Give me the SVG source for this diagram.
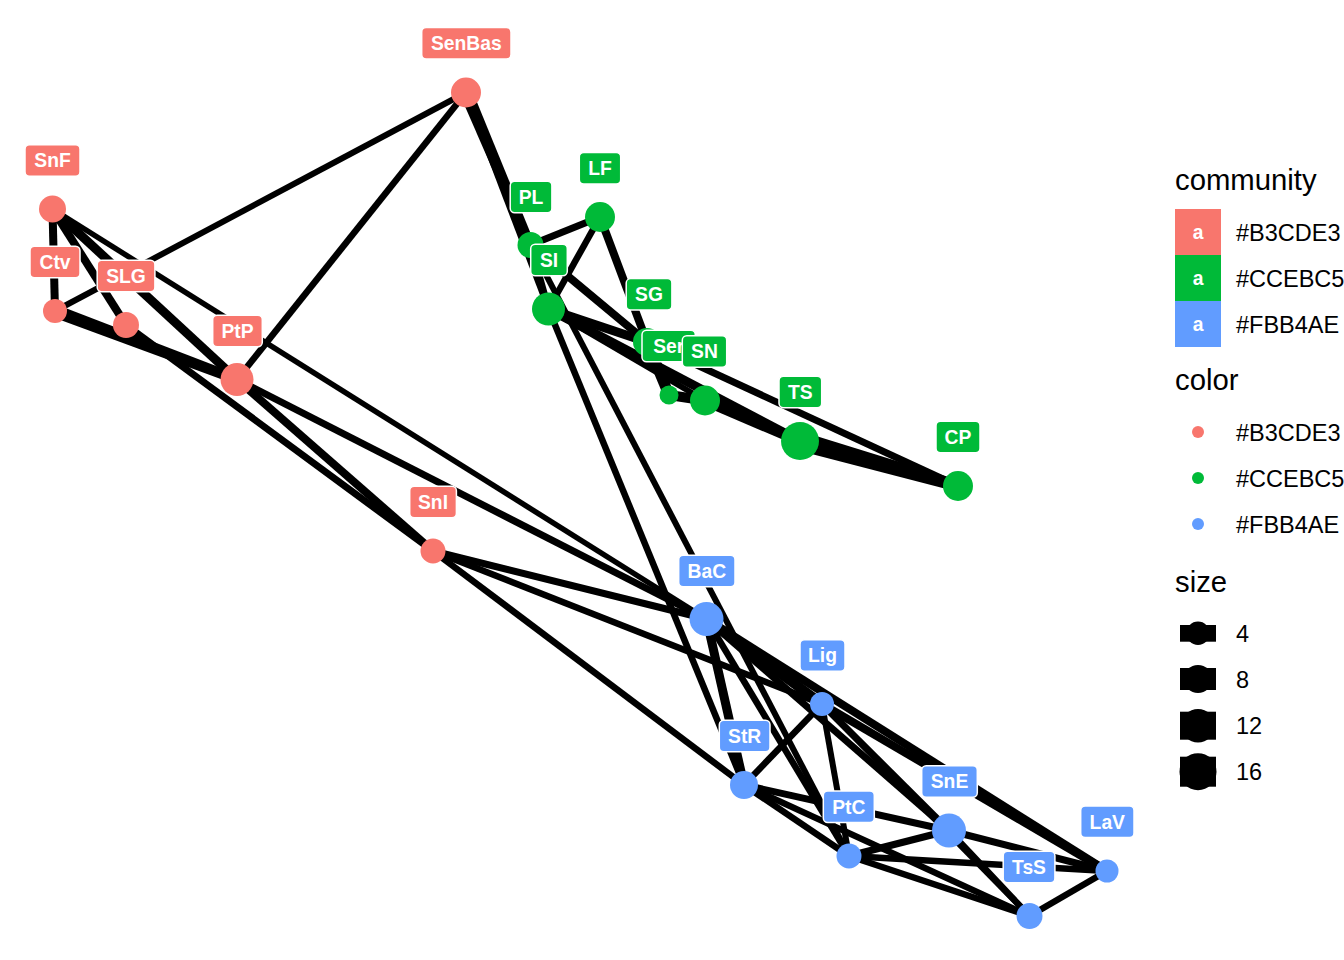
<svg xmlns="http://www.w3.org/2000/svg" width="1344" height="960" viewBox="0 0 1344 960">
<style>
.e{stroke:#000;stroke-linecap:butt;fill:none}
.r{fill:#F8766D}.g{fill:#00BA38}.b{fill:#619CFF}
.lb{stroke:#fff;stroke-width:1.5}
.lt{font-family:"Liberation Sans",Arial,sans-serif;font-weight:bold;font-size:19.3px;fill:#fff;text-anchor:middle}
.tt{font-family:"Liberation Sans",Arial,sans-serif;font-size:29.3px;fill:#000}
.tx{font-family:"Liberation Sans",Arial,sans-serif;font-size:23.5px;fill:#000}
</style>
<rect width="1344" height="960" fill="#fff"/>
<g id="connectors">
<line class="e" stroke-width="8" x1="52.5" y1="209" x2="55" y2="311"/>
<line class="e" stroke-width="8" x1="52.5" y1="209" x2="126" y2="325"/>
<line class="e" stroke-width="9" x1="52.5" y1="209" x2="237" y2="379.5"/>
<line class="e" stroke-width="5.5" x1="52.5" y1="209" x2="706.5" y2="619"/>
<polygon fill="#000" points="55,304 55,318 237,385 237,374"/>
<line class="e" stroke-width="6" x1="466" y1="92.5" x2="55" y2="311"/>
<line class="e" stroke-width="6.5" x1="466" y1="92.5" x2="237" y2="379.5"/>
<line class="e" stroke-width="7" x1="126" y1="325" x2="433" y2="551"/>
<line class="e" stroke-width="8" x1="237" y1="379.5" x2="433" y2="551"/>
<line class="e" stroke-width="7" x1="237" y1="379.5" x2="706.5" y2="619"/>
<line class="e" stroke-width="7" x1="433" y1="551" x2="706.5" y2="619"/>
<line class="e" stroke-width="6.5" x1="433" y1="551" x2="822" y2="704"/>
<line class="e" stroke-width="6.5" x1="433" y1="551" x2="744" y2="785"/>
<polygon fill="#000" points="460,95 472,90 535,244 526,246"/>
<line class="e" stroke-width="6" x1="466" y1="92.5" x2="548.5" y2="309"/>
<line class="e" stroke-width="7" x1="530.5" y1="245" x2="600" y2="217"/>
<line class="e" stroke-width="7" x1="530.5" y1="245" x2="548.5" y2="309"/>
<line class="e" stroke-width="6.5" x1="600" y1="217" x2="548.5" y2="309"/>
<line class="e" stroke-width="8" x1="600" y1="217" x2="647" y2="342"/>
<line class="e" stroke-width="8" x1="530.5" y1="245" x2="647" y2="342"/>
<line class="e" stroke-width="9" x1="548.5" y1="309" x2="647" y2="342"/>
<line class="e" stroke-width="9" x1="548.5" y1="309" x2="800" y2="441"/>
<line class="e" stroke-width="6" x1="548.5" y1="309" x2="705" y2="400.5"/>
<line class="e" stroke-width="11" x1="647" y1="342" x2="669" y2="395"/>
<line class="e" stroke-width="10" x1="669" y1="395" x2="705" y2="400.5"/>
<line class="e" stroke-width="11" x1="705" y1="400.5" x2="800" y2="441"/>
<polygon fill="#000" points="800,431 800,451 958,492 958,480"/>
<line class="e" stroke-width="7" x1="647" y1="342" x2="958" y2="486"/>
<line class="e" stroke-width="6.5" x1="548.5" y1="309" x2="744" y2="785"/>
<line class="e" stroke-width="6" x1="530.5" y1="245" x2="849" y2="856"/>
<line class="e" stroke-width="10" x1="706.5" y1="619" x2="822" y2="704"/>
<line class="e" stroke-width="7" x1="706.5" y1="619" x2="949" y2="830.5"/>
<line class="e" stroke-width="8" x1="706.5" y1="619" x2="1107" y2="871"/>
<line class="e" stroke-width="9" x1="706.5" y1="619" x2="744" y2="785"/>
<line class="e" stroke-width="6.5" x1="706.5" y1="619" x2="849" y2="856"/>
<line class="e" stroke-width="6.5" x1="822" y1="704" x2="744" y2="785"/>
<line class="e" stroke-width="6" x1="822" y1="704" x2="849" y2="856"/>
<line class="e" stroke-width="7" x1="822" y1="704" x2="949" y2="830.5"/>
<line class="e" stroke-width="6" x1="822" y1="704" x2="1029.5" y2="916"/>
<line class="e" stroke-width="8" x1="822" y1="704" x2="1107" y2="871"/>
<line class="e" stroke-width="6.5" x1="744" y1="785" x2="849" y2="856"/>
<line class="e" stroke-width="7" x1="744" y1="785" x2="949" y2="830.5"/>
<line class="e" stroke-width="6.5" x1="744" y1="785" x2="1029.5" y2="916"/>
<line class="e" stroke-width="7" x1="849" y1="856" x2="949" y2="830.5"/>
<line class="e" stroke-width="6.5" x1="849" y1="856" x2="1107" y2="871"/>
<line class="e" stroke-width="6.5" x1="849" y1="856" x2="1029.5" y2="916"/>
<line class="e" stroke-width="7" x1="949" y1="830.5" x2="1107" y2="871"/>
<line class="e" stroke-width="6.5" x1="949" y1="830.5" x2="1029.5" y2="916"/>
<line class="e" stroke-width="6.5" x1="1029.5" y1="916" x2="1107" y2="871"/>
</g>
<g id="node-SenBas"><circle class="r" cx="466" cy="92.5" r="15"/><rect class="r lb" x="421.7" y="27.5" width="89.3" height="31.5" rx="4.5"/><text class="lt" x="466.3" y="50">SenBas</text></g>
<g id="node-SnF"><circle class="r" cx="52.5" cy="209" r="13.5"/><rect class="r lb" x="25" y="144.8" width="55" height="31.5" rx="4.5"/><text class="lt" x="52.5" y="167.3">SnF</text></g>
<g id="node-Ctv"><circle class="r" cx="55" cy="311" r="12"/><rect class="r lb" x="30" y="246.3" width="50" height="31.5" rx="4.5"/><text class="lt" x="55" y="268.8">Ctv</text></g>
<g id="node-SLG"><circle class="r" cx="126" cy="325" r="13"/><rect class="r lb" x="97.2" y="260.3" width="57.7" height="31.5" rx="4.5"/><text class="lt" x="126" y="282.8">SLG</text></g>
<g id="node-PtP"><circle class="r" cx="237" cy="379.5" r="16.5"/><rect class="r lb" x="212.7" y="315.3" width="49.6" height="31.5" rx="4.5"/><text class="lt" x="237.5" y="337.8">PtP</text></g>
<g id="node-SnI"><circle class="r" cx="433" cy="551" r="12.5"/><rect class="r lb" x="409.7" y="486.3" width="46.7" height="31.5" rx="4.5"/><text class="lt" x="433" y="508.8">SnI</text></g>
<g id="node-LF"><circle class="g" cx="600" cy="217" r="15"/><rect class="g lb" x="579.3" y="152.6" width="41.4" height="31.5" rx="4.5"/><text class="lt" x="600" y="175.1">LF</text></g>
<g id="node-PL"><circle class="g" cx="530.5" cy="245" r="13"/><rect class="g lb" x="510.2" y="181.3" width="41.7" height="31.5" rx="4.5"/><text class="lt" x="531" y="203.8">PL</text></g>
<g id="node-SI"><circle class="g" cx="548.5" cy="309" r="16.5"/><rect class="g lb" x="530.7" y="244.3" width="36.6" height="31.5" rx="4.5"/><text class="lt" x="549" y="266.8">SI</text></g>
<g id="node-SG"><circle class="g" cx="647" cy="342" r="14"/><rect class="g lb" x="626.2" y="278.6" width="45.7" height="31.5" rx="4.5"/><text class="lt" x="649" y="301.1">SG</text></g>
<g id="node-Ser"><circle class="g" cx="669" cy="395" r="9.5"/><rect class="g lb" x="642" y="330.3" width="53.3" height="31.5" rx="4.5"/><text class="lt" x="668.7" y="352.8">Ser</text></g>
<g id="node-SN"><circle class="g" cx="705" cy="400.5" r="15"/><rect class="g lb" x="682.3" y="335.8" width="44.4" height="31.5" rx="4.5"/><text class="lt" x="704.5" y="358.3">SN</text></g>
<g id="node-TS"><circle class="g" cx="800" cy="441" r="19"/><rect class="g lb" x="779" y="376.3" width="42.7" height="31.5" rx="4.5"/><text class="lt" x="800.3" y="398.8">TS</text></g>
<g id="node-CP"><circle class="g" cx="958" cy="486" r="15"/><rect class="g lb" x="936" y="421.3" width="44" height="31.5" rx="4.5"/><text class="lt" x="958" y="443.8">CP</text></g>
<g id="node-BaC"><circle class="b" cx="706.5" cy="619" r="17"/><rect class="b lb" x="678.7" y="555.3" width="56.3" height="31.5" rx="4.5"/><text class="lt" x="706.8" y="577.8">BaC</text></g>
<g id="node-Lig"><circle class="b" cx="822" cy="704" r="12"/><rect class="b lb" x="800" y="639.8" width="45" height="31.5" rx="4.5"/><text class="lt" x="822.5" y="662.3">Lig</text></g>
<g id="node-StR"><circle class="b" cx="744" cy="785" r="14"/><rect class="b lb" x="719.3" y="720.3" width="50.7" height="31.5" rx="4.5"/><text class="lt" x="744.7" y="742.8">StR</text></g>
<g id="node-PtC"><circle class="b" cx="849" cy="856" r="12.5"/><rect class="b lb" x="823.3" y="791" width="51" height="31.5" rx="4.5"/><text class="lt" x="848.8" y="813.6">PtC</text></g>
<g id="node-SnE"><circle class="b" cx="949" cy="830.5" r="17"/><rect class="b lb" x="921.7" y="765.8" width="55.6" height="31.5" rx="4.5"/><text class="lt" x="949.5" y="788.3">SnE</text></g>
<g id="node-LaV"><circle class="b" cx="1107" cy="871" r="11.5"/><rect class="b lb" x="1080.7" y="806" width="53.3" height="31.5" rx="4.5"/><text class="lt" x="1107.3" y="828.5">LaV</text></g>
<g id="node-TsS"><circle class="b" cx="1029.5" cy="916" r="13"/><rect class="b lb" x="1003.2" y="851.3" width="51.7" height="31.5" rx="4.5"/><text class="lt" x="1029" y="873.8">TsS</text></g>
<g id="legend">
<text class="tt" x="1175" y="189.5">community</text>
<rect class="r" x="1175" y="209" width="46" height="46"/>
<rect class="g" x="1175" y="255" width="46" height="46"/>
<rect class="b" x="1175" y="301" width="46" height="46"/>
<text class="lt" x="1198" y="239">a</text>
<text class="lt" x="1198" y="285">a</text>
<text class="lt" x="1198" y="331">a</text>
<text class="tx" x="1236" y="240.5">#B3CDE3</text>
<text class="tx" x="1236" y="286.5">#CCEBC5</text>
<text class="tx" x="1236" y="332.5">#FBB4AE</text>
<text class="tt" x="1175" y="390">color</text>
<circle class="r" cx="1198" cy="432" r="6"/>
<circle class="g" cx="1198" cy="478" r="6"/>
<circle class="b" cx="1198" cy="524" r="6"/>
<text class="tx" x="1236" y="440.5">#B3CDE3</text>
<text class="tx" x="1236" y="486.5">#CCEBC5</text>
<text class="tx" x="1236" y="532.5">#FBB4AE</text>
<text class="tt" x="1175" y="591.5">size</text>
<rect x="1180" y="625" width="36" height="16.7"/><circle cx="1198" cy="633.3" r="11.7"/>
<rect x="1180" y="668" width="36" height="22"/><circle cx="1198" cy="679" r="14"/>
<rect x="1180" y="711.7" width="36" height="28"/><circle cx="1198" cy="725.7" r="16.8"/>
<rect x="1180" y="756.7" width="36" height="30"/><circle cx="1198" cy="771.7" r="18.5"/>
<text class="tx" x="1236" y="641.7">4</text>
<text class="tx" x="1236" y="687.5">8</text>
<text class="tx" x="1236" y="734">12</text>
<text class="tx" x="1236" y="780">16</text>
</g>
</svg>
